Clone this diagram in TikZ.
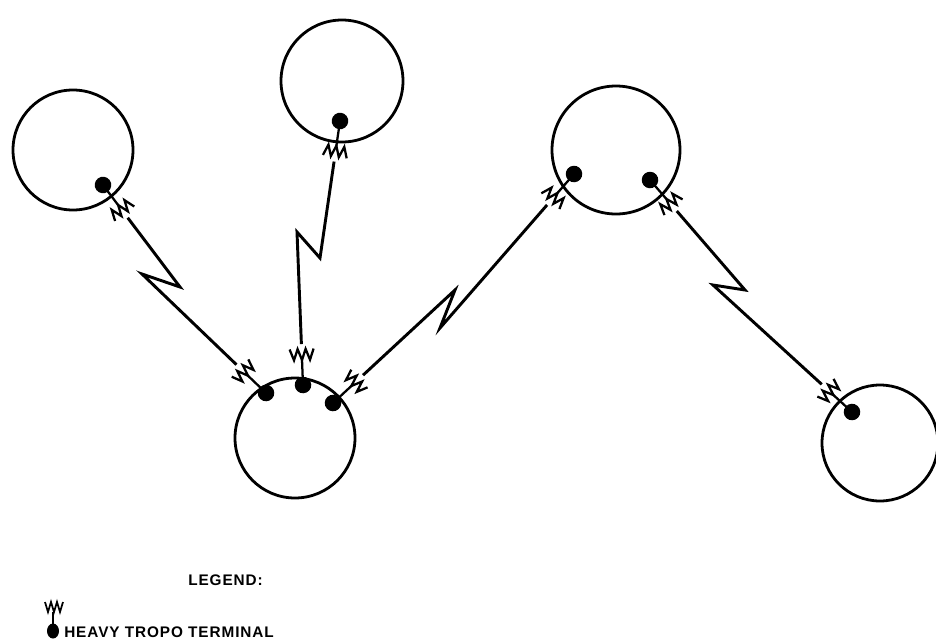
\documentclass[tikz,border=0pt]{standalone}
\usepackage{fontspec}
\setmainfont{Liberation Sans}
\newfontfamily\legendfont[LetterSpace=6]{Liberation Sans}
\usetikzlibrary{calc}
\tikzset{
  ring/.style={line width=2.1pt},
  link/.style={line width=2.2pt, line join=miter},
  antenna/.style={line width=1.7pt, line join=miter},
  legendantenna/.style={line width=1.3pt, line join=miter},
  legendtext/.style={font=\legendfont\bfseries\fontsize{11.5pt}{13pt}\selectfont, inner sep=0pt}
}
% #1 dot coordinate, #2 target coordinate, #3 name of link start
\newcommand\tropoterm[3]{%
  \path let \p1=($(#2)-(#1)$) in \pgfextra{\pgfmathsetmacro\tmpang{atan2(\y1,\x1)}\xdef\tropoang{\tmpang}};
  \begin{scope}[shift={(#1)},rotate=\tropoang]
    \fill (0,0) circle[radius=6.2pt];
    \draw[antenna] (0,0) -- (25,0);
    \draw[antenna] (36,-12) -- (25,-8) -- (36,-4) -- (25,0) -- (36,4) -- (25,8) -- (36,12);
    \coordinate (#3) at (41,0);
  \end{scope}}
\begin{document}
\begin{tikzpicture}[x=0.75pt,y=-0.75pt]
\clip (0,0) rectangle (936,640);
% stations
\draw[ring] (73,150) circle[radius=60];
\draw[ring] (342,81) circle[radius=61];
\draw[ring] (616,150) circle[radius=64];
\draw[ring] (295,438) circle[radius=60];
\draw[ring] (880,443) circle[radius=58];
% terminal dots
\coordinate (d1) at (103,185);
\coordinate (d2) at (340,121);
\coordinate (d3a) at (574,174);
\coordinate (d3b) at (650,180);
\coordinate (d4a) at (266,393);
\coordinate (d4b) at (303,385);
\coordinate (d4c) at (333,403);
\coordinate (d5) at (852,412);
% lightning break points
\coordinate (p1) at (180,287); \coordinate (q1) at (142,274);
\coordinate (p2) at (320,258); \coordinate (q2) at (297,232);
\coordinate (p3) at (455,290); \coordinate (q3) at (440,328);
\coordinate (p4) at (745,290); \coordinate (q4) at (713,285);
% terminals
\tropoterm{d1}{p1}{s1a}
\tropoterm{d4a}{q1}{s1b}
\tropoterm{d2}{p2}{s2a}
\tropoterm{d4b}{q2}{s2b}
\tropoterm{d4c}{p3}{s3a}
\tropoterm{d3a}{q3}{s3b}
\tropoterm{d3b}{p4}{s4a}
\tropoterm{d5}{q4}{s4b}
% links
\draw[link] (s1a) -- (p1) -- (q1) -- (s1b);
\draw[link] (s2a) -- (p2) -- (q2) -- (s2b);
\draw[link] (s3a) -- (p3) -- (q3) -- (s3b);
\draw[link] (s4a) -- (p4) -- (q4) -- (s4b);
% legend
\node[legendtext, anchor=west] (legendtitle) at (188,580) {LEGEND:};
\coordinate (ldot) at (53,631);
\fill (ldot) ellipse[x radius=6, y radius=7.5];
\draw[legendantenna] (ldot) -- (53,612);
\draw[legendantenna] (45,602) -- (48,612) -- (51,602) -- (54,612) -- (57,602) -- (60,612) -- (63,602);
\node[legendtext, anchor=west] (legendterm) at (64,632) {HEAVY TROPO TERMINAL};
\end{tikzpicture}
\end{document}
